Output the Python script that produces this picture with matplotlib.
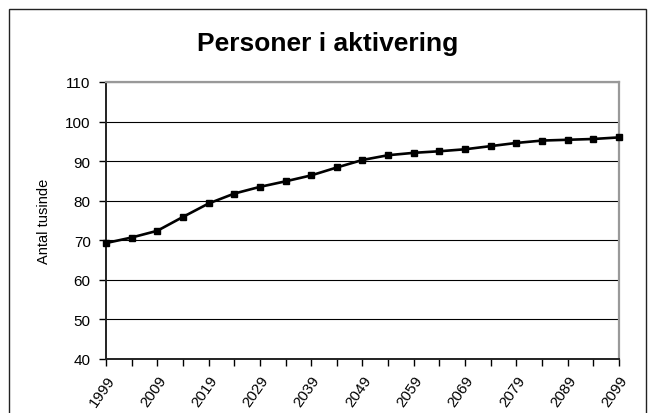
import matplotlib
matplotlib.use("Agg")
import matplotlib.pyplot as plt
from matplotlib.patches import Rectangle

plt.rcParams['font.family'] = ['Liberation Sans', 'DejaVu Sans']

# Data
years = [1999, 2004, 2009, 2014, 2019, 2024, 2029, 2034, 2039, 2044, 2049,
         2054, 2059, 2064, 2069, 2074, 2079, 2084, 2089, 2094, 2099]
values = [69.3, 70.7, 72.4, 75.9, 79.3, 81.8, 83.5, 84.9, 86.4, 88.4, 90.3,
          91.5, 92.1, 92.5, 93.0, 93.8, 94.6, 95.2, 95.4, 95.6, 96.0]
label_years = [1999, 2009, 2019, 2029, 2039, 2049, 2059, 2069, 2079, 2089, 2099]
y_ticks = [40, 50, 60, 70, 80, 90, 100, 110]

fig = plt.figure(figsize=(6.53, 4.14), dpi=100)

# outer chart frame
fig.patches.append(Rectangle((9 / 653, -0.05), 637 / 653, 1 - 10 / 414 + 0.05,
                             transform=fig.transFigure, fill=False,
                             edgecolor='#222222', linewidth=1.0))

ax = fig.add_axes([106 / 653, 1 - 360 / 414, 513 / 653, 277 / 414])

ax.plot(years, values, color='black', linewidth=1.9, marker='s',
        markersize=5, clip_on=False, zorder=3)

ax.set_xlim(1999, 2099)
ax.set_ylim(40, 110)
ax.set_yticks(y_ticks)
ax.yaxis.grid(True, color='black', linewidth=0.8)
ax.set_axisbelow(True)

# ticks at every point, labels every 10 years
ax.set_xticks(years)
ax.set_xticklabels([str(y) if y in label_years else '' for y in years],
                   rotation=55, ha='right', rotation_mode='anchor', fontsize=11)
ax.tick_params(axis='x', length=5, width=1, direction='out', pad=5)
ax.tick_params(axis='y', length=5, width=1, direction='out', labelsize=11, pad=6)

ax.set_ylabel('Antal tusinde', fontsize=10.5, labelpad=10)

for side in ['left', 'bottom']:
    ax.spines[side].set_color('#222222')
    ax.spines[side].set_linewidth(1.4)
for side in ['top', 'right']:
    ax.spines[side].set_color('#999999')
    ax.spines[side].set_linewidth(1.6)

fig.text(328 / 653, 1 - 50.7 / 414, 'Personer i aktivering', ha='center', va='baseline',
         fontsize=19, fontweight='bold')

fig.savefig('out.png', dpi=100)
